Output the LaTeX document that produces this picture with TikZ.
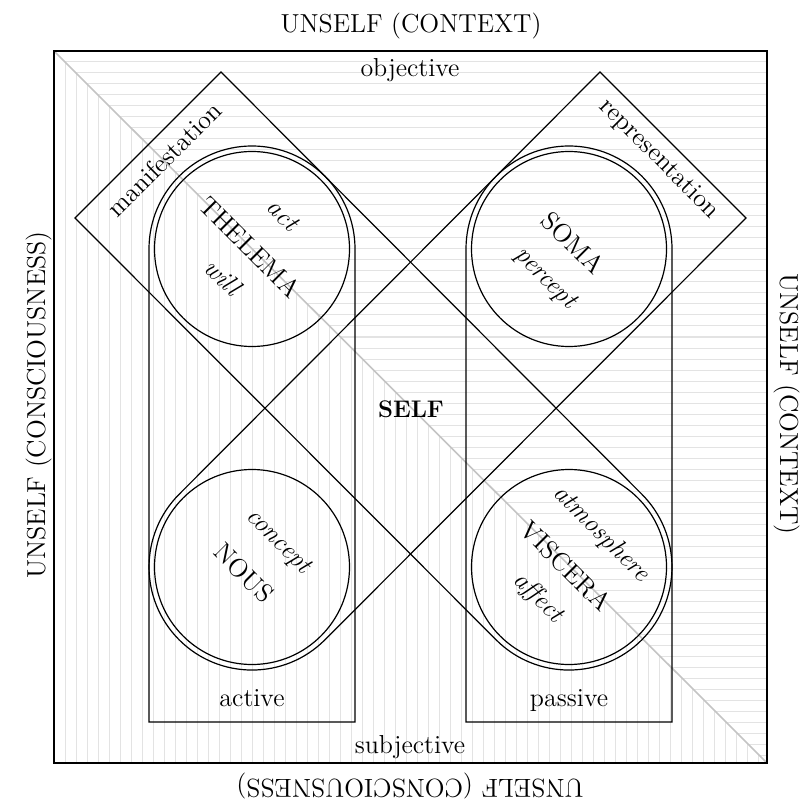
\documentclass[tikz,border=0pt]{standalone}
\usepackage{tikz}
\usetikzlibrary{calc}
\definecolor{hatchgrey}{HTML}{E3E3E3}
\definecolor{diaggrey}{HTML}{C4C4C4}

\begin{document}
\begin{tikzpicture}[x=0.5pt,y=-0.5pt,font=\fontsize{13}{15}\selectfont,
    frame/.style={line width=1.1pt},
    outline/.style={line width=0.6pt},
    hatch/.style={hatchgrey,line width=0.5pt},
    tilted/.style={rotate=-45,inner sep=1pt},
    aspect/.style={tilted,font=\fontsize{13}{15}\selectfont\itshape}]
  \useasboundingbox (0,0) rectangle (806,806);
  \coordinate (nw) at (54,51); \coordinate (ne) at (767,51);
  \coordinate (se) at (767,763); \coordinate (sw) at (54,763);
  \coordinate (c-thelema) at (252,249); \coordinate (c-soma) at (569,249);
  \coordinate (c-nous) at (252,567); \coordinate (c-viscera) at (569,567);
  \begin{scope}
    \clip (nw)--(ne)--(se)--cycle;
    \foreach \y in {62,73,...,760}{\draw[hatch] (54,\y)--(767,\y);}
  \end{scope}
  \begin{scope}
    \clip (nw)--(sw)--(se)--cycle;
    \foreach \x in {65,76,...,765}{\draw[hatch] (\x,51)--(\x,763);}
  \end{scope}
  \draw[diaggrey,line width=0.8pt] (nw)--(se);
  \draw[frame] (nw) rectangle (se);
  \draw[outline] (149,722)--(149,249) arc[start angle=180,end angle=360,radius=103]--(355,722)--cycle;
  \draw[outline] (466,722)--(466,249) arc[start angle=180,end angle=360,radius=103]--(672,722)--cycle;
  \draw[outline] (221,72)--(641.8,494.2) arc[start angle=-45,end angle=135,radius=103]--(75,218)--cycle;
  \draw[outline] (600,72)--(179.2,494.2) arc[start angle=225,end angle=45,radius=103]--(746,218)--cycle;
  \foreach \c in {c-thelema,c-soma,c-nous,c-viscera}{\draw[outline] (\c) circle[radius=97.5];}
  \node[anchor=base] (ctx-top) at (411,33) {UNSELF (CONTEXT)};
  \node[anchor=base,rotate=-90] (ctx-right) at (780,404) {UNSELF (CONTEXT)};
  \node[anchor=base,rotate=90] (con-left) at (45,405) {UNSELF (CONSCIOUSNESS)};
  \node[anchor=base,rotate=180] (con-bottom) at (410,779) {UNSELF (CONSCIOUSNESS)};
  \node[anchor=base] (objective) at (410,77) {objective};
  \node[anchor=base] (subjective) at (410,753) {subjective};
  \node[anchor=base] (active) at (252,706) {active};
  \node[anchor=base] (passive) at (569,706) {passive};
  \node[anchor=base,font=\fontsize{12}{14}\selectfont\bfseries] (self) at (411,417) {SELF};
  \node[rotate=45] (manifestation) at (164,159) {manifestation};
  \node[tilted] (representation) at (659,159) {representation};
  \node[tilted] (thelema) at (250,247) {THELEMA};
  \node[aspect] (act) at (283,215) {act};
  \node[aspect] (will) at (223,277) {will};
  \node[tilted] (soma) at (573,243) {SOMA};
  \node[aspect] (percept) at (545,279) {percept};
  \node[tilted] (nous) at (244,573) {NOUS};
  \node[aspect] (concept) at (278,542) {concept};
  \node[tilted] (viscera) at (566,566) {VISCERA};
  \node[aspect] (atmosphere) at (601,534) {atmosphere};
  \node[aspect] (affect) at (538,598) {affect};
\end{tikzpicture}
\end{document}
